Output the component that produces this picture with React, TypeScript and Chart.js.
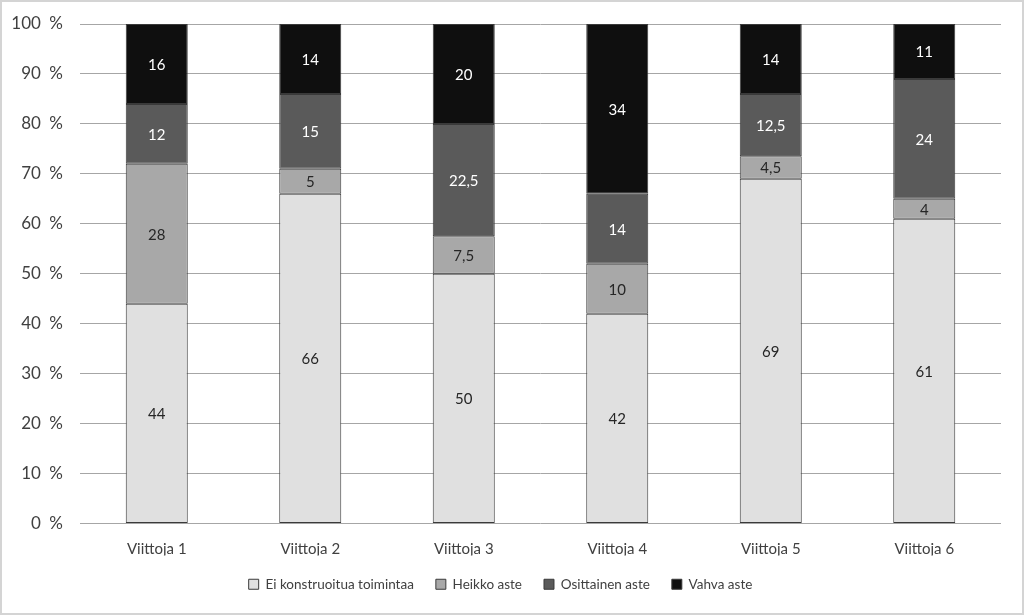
import React, { useEffect, useRef } from "react";
import { Chart, registerables } from "chart.js";

Chart.register(...registerables);

const categories = ["Viittoja 1", "Viittoja 2", "Viittoja 3", "Viittoja 4", "Viittoja 5", "Viittoja 6"];
const eiKonstruoitua = [44, 66, 50, 42, 69, 61];
const heikko = [28, 5, 7.5, 10, 4.5, 4];
const osittainen = [12, 15, 22.5, 14, 12.5, 24];
const vahva = [16, 14, 20, 34, 14, 11];
const yTicks = [0, 10, 20, 30, 40, 50, 60, 70, 80, 90, 100];

const FONT = "Lato, 'Open Sans', sans-serif";

const labelPlugin = {
  id: "segLabels",
  afterDatasetsDraw(chart: any) {
    const ctx = chart.ctx;
    ctx.save();
    ctx.font = `15px ${FONT}`;
    ctx.textAlign = "center";
    ctx.textBaseline = "middle";
    chart.data.datasets.forEach((ds: any, i: number) => {
      const meta = chart.getDatasetMeta(i);
      meta.data.forEach((bar: any, j: number) => {
        const v = ds.data[j];
        const y = (bar.y + bar.base) / 2;
        ctx.fillStyle = ds.labelColor;
        ctx.fillText(String(v).replace(".", ","), bar.x, y + 1);
      });
    });
    ctx.restore();
  },
};

const borderPlugin = {
  id: "outerBorder",
  afterDraw(chart: any) {
    const ctx = chart.ctx;
    ctx.save();
    ctx.strokeStyle = "#d4d4d4";
    ctx.lineWidth = 2;
    ctx.strokeRect(1, 1, chart.width - 2, chart.height - 2);
    ctx.restore();
  },
};

export default function App() {
  const ref = useRef<HTMLCanvasElement>(null);
  useEffect(() => {
    if (!ref.current) return;
    const mk = (label: string, data: number[], bg: string, labelColor: string) => ({
      label,
      data,
      backgroundColor: bg,
      borderColor: "#3a3a3a",
      borderWidth: 1,
      borderSkipped: false,
      labelColor,
      categoryPercentage: 1,
      barPercentage: 0.404,
    });
    const chart = new Chart(ref.current, {
      type: "bar",
      data: {
        labels: categories,
        datasets: [
          mk("Ei konstruoitua toimintaa", eiKonstruoitua, "#e0e0e0", "#262626"),
          mk("Heikko aste", heikko, "#a8a8a8", "#262626"),
          mk("Osittainen aste", osittainen, "#5a5a5a", "#ffffff"),
          mk("Vahva aste", vahva, "#0f0f0f", "#ffffff"),
        ] as any,
      },
      options: {
        animation: false,
        responsive: false,
        layout: { padding: { top: 24, right: 23, left: 0, bottom: 14 } },
        plugins: {
          tooltip: { enabled: false },
          legend: {
            position: "bottom",
            labels: {
              boxWidth: 10,
              boxHeight: 10,
              padding: 22,
              color: "#404040",
              font: { family: FONT, size: 13.5 },
            },
          },
        },
        scales: {
          x: {
            stacked: true,
            grid: { display: false },
            border: { display: false },
            ticks: { color: "#404040", font: { family: FONT, size: 15 }, padding: 9 },
            afterFit: (s: any) => { s.height = 32; },
          },
          y: {
            stacked: true,
            min: 0,
            max: 100,
            afterBuildTicks: (s: any) => { s.ticks = yTicks.map((v) => ({ value: v })); },
            grid: { color: "#a6a6a6", drawTicks: false },
            border: { display: false },
            ticks: {
              color: "#404040",
              font: { family: FONT, size: 17 },
              padding: 17,
              callback: (v: any) => `${v}\u2002%`,
            },
            afterFit: (s: any) => { s.width = 80; s.paddingTop = 0; s.paddingBottom = 0; },
          },
        },
      } as any,
      plugins: [labelPlugin, borderPlugin],
    });
    return () => chart.destroy();
  }, []);
  return (
    <div style={{ position: "fixed", left: 0, top: 0, width: 1024, height: 615, background: "#fff" }}>
      <canvas ref={ref} width={1024} height={615} style={{ display: "block" }} />
    </div>
  );
}
